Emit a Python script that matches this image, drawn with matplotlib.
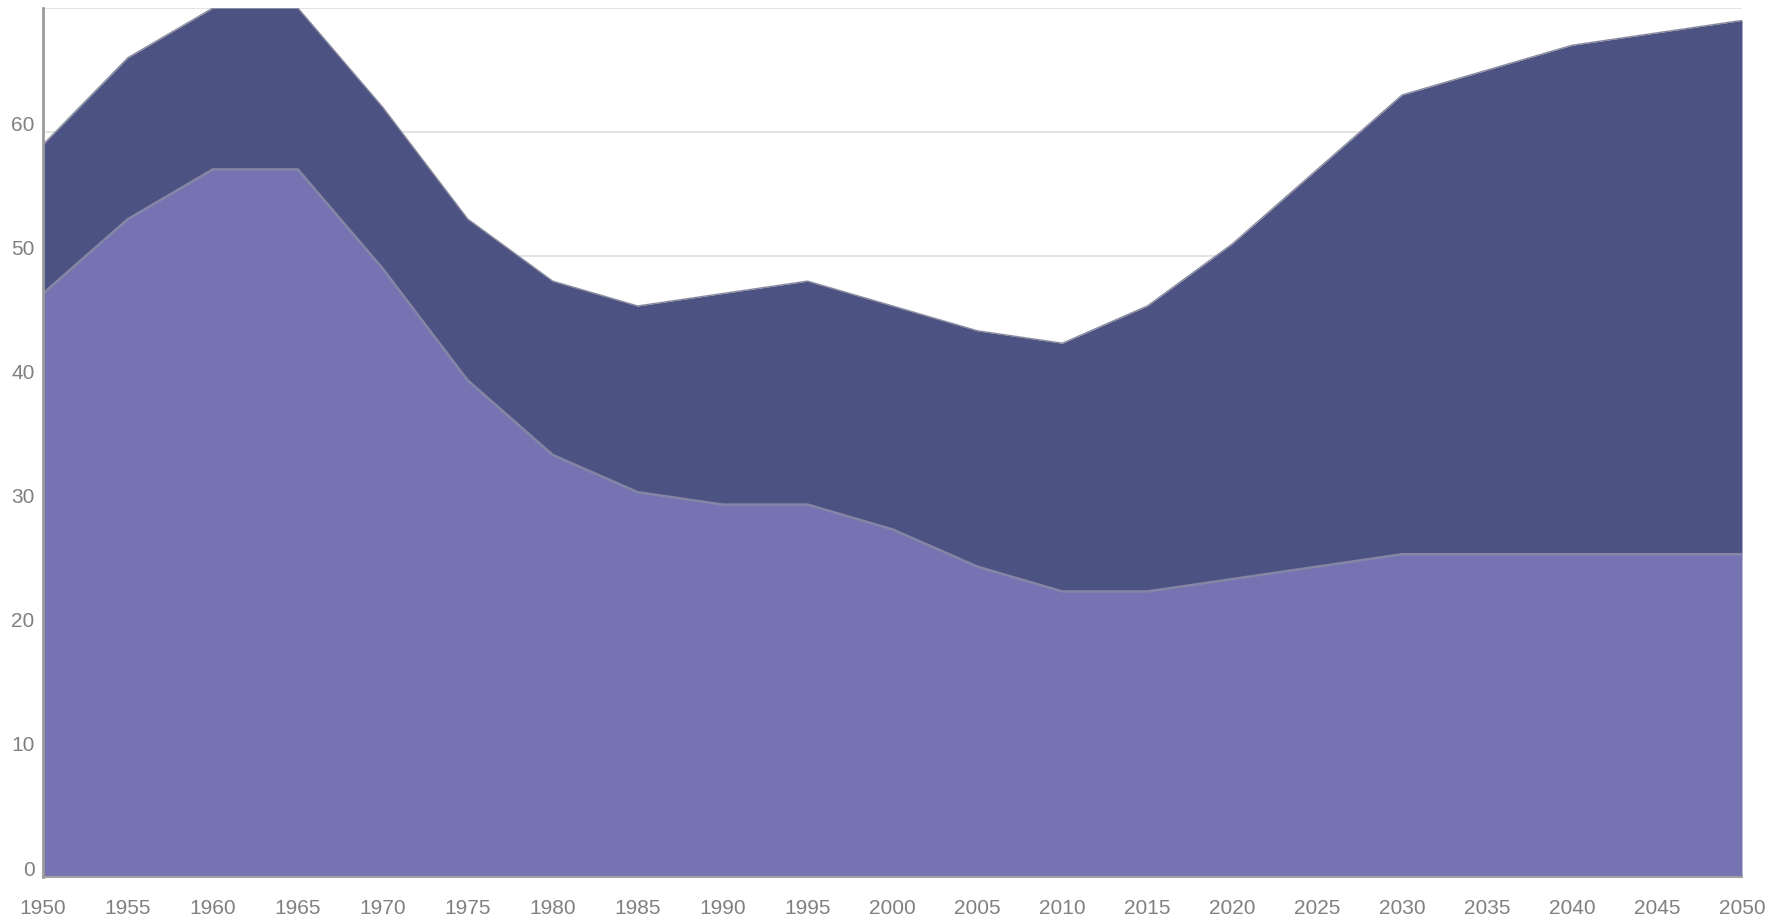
#!/usr/bin/env python

import numpy as np
import matplotlib
matplotlib.use('Agg')
import matplotlib.pyplot as plt
from matplotlib.transforms import ScaledTranslation

plt.rcParams['font.family'] = ['Liberation Sans', 'DejaVu Sans']

years = list(range(1950, 2051, 5))
# lower band
lower = [47, 53, 57, 57, 49, 40, 34, 31, 30, 30, 28, 25, 23, 23, 24, 25,
         26, 26, 26, 26, 26]
# stacked total (lower + upper band)
total = [59, 66, 70, 70, 62, 53, 48, 46, 47, 48, 46, 44, 43, 46, 51, 57,
         63, 65, 67, 68, 69]
y_ticks = [0, 10, 20, 30, 40, 50, 60, 70]
y_labels = ['0', '10', '20', '30', '40', '50', '60', '']

fig = plt.figure(figsize=(17.81, 9.19), dpi=100)
ax = fig.add_axes([43 / 1781, 1 - 877 / 919, (1742 - 43) / 1781, (877 - 8) / 919])

x = np.array(years)
lo = np.array(lower)
tot = np.array(total)

ax.fill_between(x, 0, lo, color='#7573b2', lw=0, zorder=2)
ax.fill_between(x, lo, tot, color='#4c5382', lw=0, zorder=2)
ax.plot(x, lo, color='#8585a6', lw=1.8, zorder=3)
ax.plot(x, tot, color='#8a8a9e', lw=1.0, zorder=3)

ax.set_xlim(1950, 2050)
ax.set_ylim(0, 70)
ax.set_xticks(years)
ax.set_xticklabels([str(y) for y in years])
ax.set_yticks(y_ticks)
ax.set_yticklabels(y_labels)

ax.grid(axis='y', color='#e0e0e0', lw=1.3, zorder=0)
ax.set_axisbelow(True)

for s in ['top', 'right']:
    ax.spines[s].set_visible(False)
ax.spines['left'].set_color('#9a9a9a')
ax.spines['left'].set_linewidth(2)
ax.spines['left'].set_zorder(4)
ax.spines['bottom'].set_color('#a0a0a0')
ax.spines['bottom'].set_linewidth(1.5)
ax.spines['bottom'].set_zorder(4)

ax.tick_params(axis='both', length=0, labelsize=15, labelcolor='#808080')
ax.tick_params(axis='x', pad=16)
ax.tick_params(axis='y', pad=6)

# y labels sit a little above their gridline
shift = ScaledTranslation(0, 9 / 100, fig.dpi_scale_trans)
for lab in ax.get_yticklabels():
    lab.set_transform(lab.get_transform() + shift)

fig.savefig('out.png', dpi=100)
